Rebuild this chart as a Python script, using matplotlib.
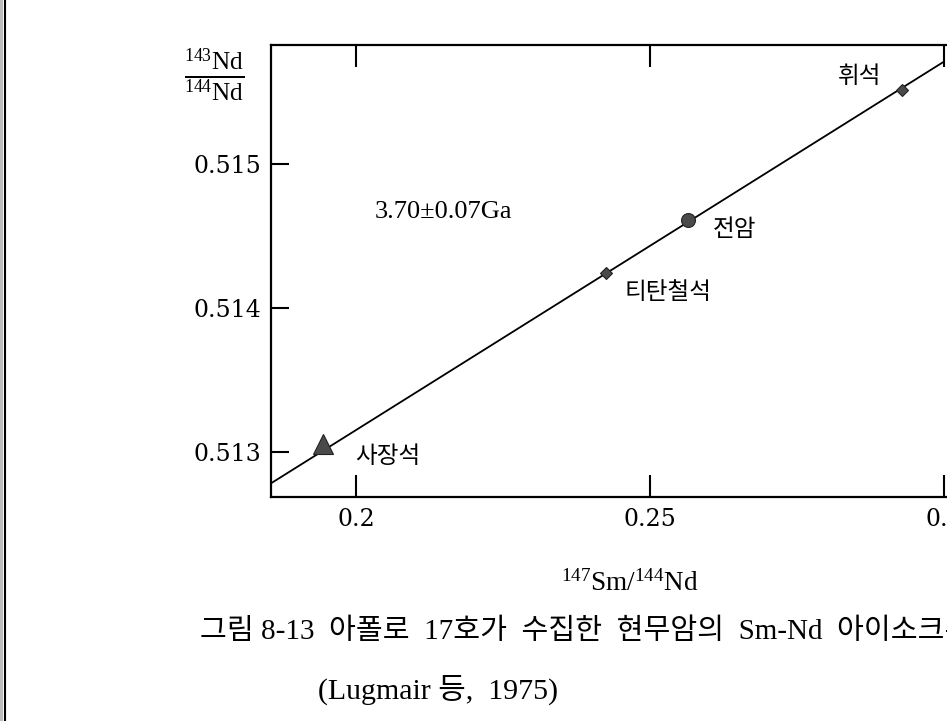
import matplotlib
matplotlib.use('Agg')
import matplotlib.pyplot as plt
from matplotlib.lines import Line2D
from matplotlib.patches import Rectangle

plt.rcParams['font.family'] = ['Liberation Serif', 'Noto Sans CJK KR']
plt.rcParams['mathtext.fontset'] = 'custom'
plt.rcParams['mathtext.rm'] = 'Liberation Serif'
plt.rcParams['mathtext.it'] = 'Liberation Serif:italic'

# data
minerals = ['사장석', '티탄철석', '전암', '휘석']
sm_nd = [0.1944, 0.2424, 0.2565, 0.2929]
nd_nd = [0.513056, 0.514243, 0.514611, 0.515514]
markers = ['^', 'D', 'o', 'D']
msizes = [15, 6.5, 10, 6.5]
label_pos = [(0.1998, 0.51297), (0.2457, 0.51411), (0.2606, 0.51455), (0.2819, 0.51561)]

isochron_x = [0.1855, 0.2997]
isochron_y = [0.512785, 0.515708]
age_text = '3.70±0.07Ga'

xticks = [0.2, 0.25, 0.3]
xticklabels = ['0.2', '0.25', '0.3']
yticks = [0.513, 0.514, 0.515]
yticklabels = ['0.513', '0.514', '0.515']

fig = plt.figure(figsize=(9.47, 7.21), dpi=100)
ax = fig.add_axes([271 / 947, (721 - 497) / 721, 676 / 947, 452 / 721])

ax.plot(isochron_x, isochron_y, color='black', lw=1.3, zorder=2)
for x, y, m, s in zip(sm_nd, nd_nd, markers, msizes):
    ax.plot(x, y, marker=m, ms=s, color='#4a4a4a', mec='#222222', mew=0.8,
            linestyle='none', zorder=3)
for name, (lx, ly) in zip(minerals, label_pos):
    ax.text(lx, ly, name, fontsize=17, family=['Noto Sans CJK KR'],
            ha='left', va='center')

ax.text(0.20319, 0.514667, age_text, fontsize=19, ha='left', va='center')

ax.set_xlim(0.1855, 0.30047)
ax.set_ylim(0.51269, 0.51583)
ax.set_xticks(xticks)
ax.set_xticklabels(xticklabels, family='DejaVu Serif')
ax.set_yticks(yticks)
ax.set_yticklabels(yticklabels, family='DejaVu Serif')
ax.spines['right'].set_visible(False)
for sp in ['left', 'top', 'bottom']:
    ax.spines[sp].set_linewidth(1.6)
ax.tick_params(axis='x', which='both', direction='in', top=True, bottom=True,
               length=13, width=1.5, labelsize=17, pad=8)
ax.tick_params(axis='x', which='both', top=True, length=16)
ax.tick_params(axis='y', direction='in', left=True, right=False,
               length=13, width=1.5, labelsize=17, pad=7)

fig.text(214 / 947, 1 - 75 / 721,
         r'$\frac{^{143}\mathrm{Nd}}{^{144}\mathrm{Nd}}$',
         fontsize=26, ha='center', va='center')
fig.text(630 / 947, 1 - 583 / 721, r'$^{147}\mathrm{Sm}/^{144}\mathrm{Nd}$',
         fontsize=19.5, ha='center', va='center')

fig.text(200 / 947, 1 - 632 / 721,
         '그림 8-13  아폴로  17호가  수집한  현무암의  Sm-Nd  아이소크론',
         fontsize=21, ha='left', va='center')
fig.text(318 / 947, 1 - 690 / 721, '(Lugmair 등,  1975)',
         fontsize=21.5, ha='left', va='center')

# scan border on the left edge
fig.add_artist(Rectangle((0, 0), 3 / 947, 1, transform=fig.transFigure,
                         color='#bdbdbd', lw=0))
fig.add_artist(Line2D([4.5 / 947, 4.5 / 947], [0, 1], transform=fig.transFigure,
                      color='black', lw=1.5))

fig.savefig('out.png', dpi=100)
